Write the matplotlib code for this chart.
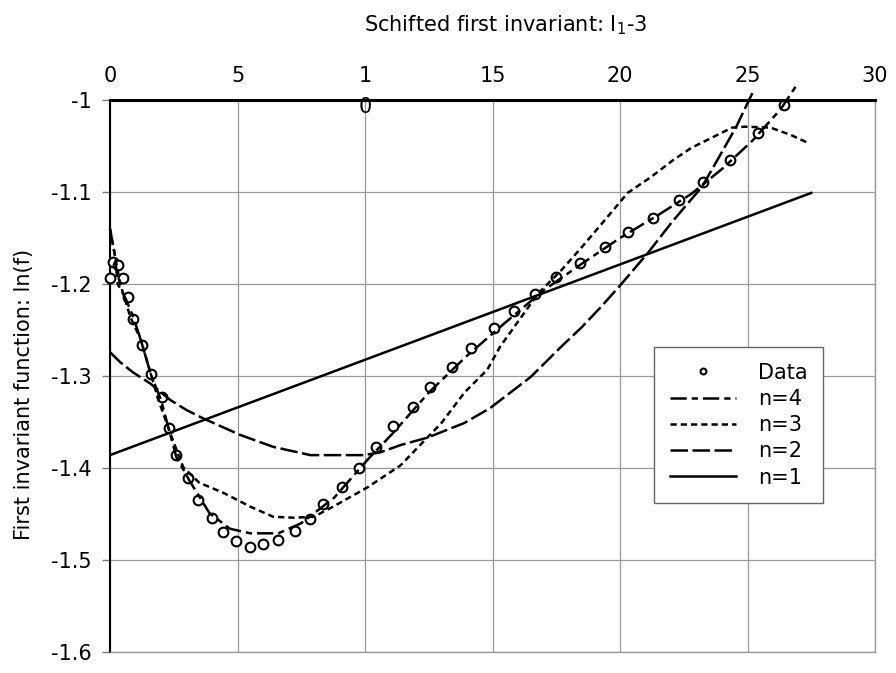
import matplotlib
matplotlib.use("Agg")
import matplotlib.pyplot as plt

plt.rcParams['font.family'] = ['DejaVu Sans']
plt.rcParams['mathtext.default'] = 'regular'

# measured data points (I1-3, ln f)
data_x = [0.0, 0.1, 0.3, 0.5, 0.7, 0.9, 1.25, 1.6, 2.05, 2.3, 2.6, 3.05, 3.45, 4.0,
          4.45, 4.95, 5.5, 6.0, 6.6, 7.25, 7.85, 8.35, 9.1, 9.75, 10.45, 11.1, 11.9,
          12.55, 13.4, 14.15, 15.05, 15.85, 16.65, 17.5, 18.45, 19.4, 20.3, 21.3,
          22.3, 23.25, 24.3, 25.4, 26.45]
data_y = [-1.193, -1.176, -1.179, -1.193, -1.214, -1.238, -1.266, -1.298, -1.323, -1.357,
          -1.386, -1.411, -1.435, -1.454, -1.470, -1.479, -1.486, -1.483, -1.478, -1.468,
          -1.455, -1.439, -1.421, -1.400, -1.377, -1.354, -1.334, -1.312, -1.290, -1.270,
          -1.248, -1.229, -1.211, -1.192, -1.177, -1.160, -1.143, -1.128, -1.109, -1.089,
          -1.065, -1.036, -1.005]

# fitted curves
n4_x = [0.0, 0.2, 0.3, 0.6, 0.9, 1.2, 1.6, 2.0, 2.6, 3.1, 3.9, 4.7, 5.5, 6.6, 7.5, 8.8,
        10.1, 11.1, 12.5, 14.0, 15.5, 17.0, 18.5, 20.0, 21.5, 22.8, 24.0, 25.2, 26.3, 26.9]
n4_y = [-1.14, -1.17, -1.20, -1.215, -1.235, -1.26, -1.298, -1.326, -1.388, -1.413, -1.449,
        -1.466, -1.471, -1.471, -1.46, -1.432, -1.391, -1.362, -1.318, -1.278, -1.242,
        -1.207, -1.178, -1.150, -1.125, -1.102, -1.075, -1.044, -1.010, -0.985]

n3_x = [0.0, 0.4, 0.8, 1.2, 1.9, 2.4, 2.87, 3.5, 4.45, 5.5, 6.4, 7.2, 8.0, 8.75, 10.1,
        11.4, 13.0, 13.9, 14.8, 15.3, 16.8, 17.7, 18.5, 19.3, 20.3, 21.2, 22.1, 22.8,
        23.6, 24.4, 24.9, 25.9, 26.7, 27.4]
n3_y = [-1.14, -1.20, -1.236, -1.26, -1.326, -1.365, -1.399, -1.416, -1.427, -1.442, -1.453,
        -1.454, -1.453, -1.442, -1.421, -1.397, -1.351, -1.318, -1.293, -1.268, -1.21,
        -1.185, -1.16, -1.134, -1.101, -1.084, -1.065, -1.052, -1.041, -1.030, -1.029,
        -1.030, -1.038, -1.047]

n2_x = [0.0, 0.4, 0.9, 1.57, 2.36, 3.0, 3.65, 5.1, 6.4, 7.86, 9.94, 10.6, 11.4, 12.45,
        13.9, 14.9, 16.5, 17.7, 18.5, 19.25, 19.96, 21.1, 22.0, 22.67, 23.2, 23.7, 24.56,
        25.2]
n2_y = [-1.274, -1.285, -1.296, -1.308, -1.326, -1.337, -1.346, -1.364, -1.377, -1.386,
        -1.386, -1.383, -1.375, -1.367, -1.351, -1.335, -1.301, -1.268, -1.247, -1.225,
        -1.203, -1.166, -1.134, -1.112, -1.095, -1.071, -1.029, -0.992]

n1_x = [0.0, 27.5]
n1_y = [-1.386, -1.101]

xticks = [0, 5, 10, 15, 20, 25, 30]
xtick_labels = ['0', '5', '1', '15', '20', '25', '30']
yticks = [-1.0, -1.1, -1.2, -1.3, -1.4, -1.5, -1.6]
ytick_labels = ['-1', '-1.1', '-1.2', '-1.3', '-1.4', '-1.5', '-1.6']

fs = 15

fig = plt.figure(figsize=(8.96, 6.73), dpi=100)
ax = fig.add_axes([110 / 896, 1 - 652 / 673, 765 / 896, 552 / 673])

lw = 1.8
ax.plot(data_x, data_y, 'o', ms=7, mfc='white', mec='black', mew=1.5,
        clip_on=False, zorder=3, label='Data')
ax.plot(n4_x, n4_y, color='black', lw=lw, ls=(0, (6.5, 2, 2.5, 2)), clip_on=False,
        zorder=4, label='n=4')
ax.plot(n3_x, n3_y, color='black', lw=lw, ls=(0, (2.5, 1.6)), zorder=4, label='n=3')
ax.plot(n2_x, n2_y, color='black', lw=lw, ls=(0, (7, 1.8)), clip_on=False,
        zorder=4, label='n=2')
ax.plot(n1_x, n1_y, color='black', lw=lw, ls='-', zorder=4, label='n=1')

ax.set_xlim(0, 30)
ax.set_ylim(-1.6, -1.0)
ax.xaxis.tick_top()
ax.set_xticks(xticks)
ax.set_xticklabels(xtick_labels)
ax.set_yticks(yticks)
ax.set_yticklabels(ytick_labels)
ax.tick_params(axis='x', length=0, pad=10, labelsize=fs)
ax.tick_params(axis='y', length=6, width=1, pad=7, labelsize=fs, color='#777777')
ax.grid(True, color='#999999', lw=0.9)
ax.set_axisbelow(True)

ax.spines['top'].set_linewidth(2.2)
ax.spines['left'].set_linewidth(1.5)
for s in ['right', 'bottom']:
    ax.spines[s].set_color('#999999')
    ax.spines[s].set_linewidth(1.0)

# stray "0" of the 10 label sitting on the top frame
ax.text(10, -1.0075, '0', ha='center', va='center', fontsize=fs, zorder=5)

leg = ax.legend(loc='upper left', bbox_to_anchor=(0.711, 0.5525), borderaxespad=0,
                fancybox=False, edgecolor='#666666', framealpha=1, fontsize=fs,
                handlelength=3.2, handletextpad=1.05, labelspacing=0.3,
                borderpad=0.75, markerscale=0.6)
leg.get_frame().set_linewidth(1.0)

fig.text(506 / 896, 1 - 25 / 673, 'Schifted first invariant: I$_1$-3',
         ha='center', va='center', fontsize=fs)
fig.text(24 / 896, 1 - 540 / 673, 'First invariant function: ln(f)',
         ha='center', va='bottom', rotation=90, fontsize=fs)

fig.savefig('out.png', dpi=100)
